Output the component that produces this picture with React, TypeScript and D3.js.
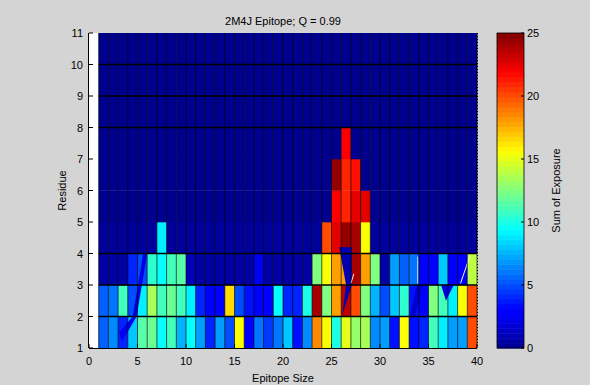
import * as d3 from "d3";
import React, { useRef, useEffect } from "react";

const title = "2M4J Epitope; Q = 0.99";
const xLabel = "Epitope Size";
const yLabel = "Residue";
const colorLabel = "Sum of Exposure";

const xTicks = [0, 5, 10, 15, 20, 25, 30, 35, 40];
const yTicks = [1, 2, 3, 4, 5, 6, 7, 8, 9, 10, 11];
const colorTicks = [0, 5, 10, 15, 20, 25];

// epitope size of each column (cell spans size .. size+1)
const epitopeSizes = d3.range(1, 40);

// sum of exposure, one array per residue level (cell spans level .. level+1)
const residue1 = [5.5, 6.5, 4, 8, 11.5, 12, 9.5, 11, 7.5, 9.5, 7, 4, 7, 5, 15.5, 3, 6, 4.5, 6, 8, 3.5, 6.5, 18.5, 15.5, 10, 15, 13, 13.5, 6.5, 7, 3.5, 15.5, 3.5, 4, 11, 9, 7, 7, 20];
const residue2 = [5.5, 6, 11, 5, 9, 13.5, 11, 12, 11, 9, 4, 3, 3, 16.5, 5, 3.5, 3, 3, 9.5, 4, 4, 10, 24, 12.5, 18, 23.5, 20, 12.5, 7.5, 5, 8, 10.5, 3.5, 3, 12.5, 11, 9, 15.5, 20];
const residue3 = [0.5, 0.5, 0.5, 4, 5, 10.5, 9.5, 11, 11.5, 1, 0.5, 0.5, 0.5, 0.5, 0.5, 0.5, 2.5, 0.5, 0.5, 0.5, 0.5, 0.5, 12.5, 15.5, 18, 18, 24, 18, 12.5, 0.5, 7, 5.5, 6, 2.5, 3, 8, 3, 3, 14];
const residue4 = [0.3, 0.3, 0.3, 0.3, 0.3, 0.3, 9, 0.3, 0.3, 0.3, 0.3, 0.3, 0.3, 0.3, 0.3, 0.3, 0.3, 0.3, 0.3, 0.3, 0.3, 0.3, 0.3, 20, 22.5, 24.5, 24, 15.5, 0.3, 0.3, 0.3, 0.3, 0.3, 0.3, 0.3, 0.3, 0.3, 0.3, 0.3];
const residue5 = [0, 0, 0, 0, 0, 0, 0, 0, 0, 0, 0, 0, 0, 0, 0, 0, 0, 0, 0, 0, 0, 0, 0, 0, 22, 21, 22.5, 22.5, 0, 0, 0, 0, 0, 0, 0, 0, 0, 0, 0];
const residue6 = [0, 0, 0, 0, 0, 0, 0, 0, 0, 0, 0, 0, 0, 0, 0, 0, 0, 0, 0, 0, 0, 0, 0, 0, 24.5, 21, 21.5, 0, 0, 0, 0, 0, 0, 0, 0, 0, 0, 0, 0];
const residue7 = [0, 0, 0, 0, 0, 0, 0, 0, 0, 0, 0, 0, 0, 0, 0, 0, 0, 0, 0, 0, 0, 0, 0, 0, 0, 22, 0, 0, 0, 0, 0, 0, 0, 0, 0, 0, 0, 0, 0];
const residue8 = [0, 0, 0, 0, 0, 0, 0, 0, 0, 0, 0, 0, 0, 0, 0, 0, 0, 0, 0, 0, 0, 0, 0, 0, 0, 0, 0, 0, 0, 0, 0, 0, 0, 0, 0, 0, 0, 0, 0];
const residue9 = [0, 0, 0, 0, 0, 0, 0, 0, 0, 0, 0, 0, 0, 0, 0, 0, 0, 0, 0, 0, 0, 0, 0, 0, 0, 0, 0, 0, 0, 0, 0, 0, 0, 0, 0, 0, 0, 0, 0];
const residue10 = [0, 0, 0, 0, 0, 0, 0, 0, 0, 0, 0, 0, 0, 0, 0, 0, 0, 0, 0, 0, 0, 0, 0, 0, 0, 0, 0, 0, 0, 0, 0, 0, 0, 0, 0, 0, 0, 0, 0];

const residueLevels = [1, 2, 3, 4, 5, 6, 7, 8, 9, 10];
const residueRows = [residue1, residue2, residue3, residue4, residue5, residue6, residue7, residue8, residue9, residue10];

// interpolation facets that cut across cells: [size, residue] corners and exposure
const facetValues = [2, 2.5, 0.8, 1.5, 2, 3];
const facetShapes = [
    [[5.6, 4], [6.0, 4], [4.9, 2], [4.5, 2]],
    [[4.5, 2], [4.9, 2], [3.4, 1.2], [3.1, 1.5]],
    [[25.8, 4.2], [27.1, 4.2], [27.1, 3.0], [26.1, 2.05], [26.5, 3.0]],
    [[33.8, 3], [34.4, 3], [33.6, 2], [33.1, 2]],
    [[36.3, 3], [37.6, 3], [36.8, 2.5]],
    [[34.2, 4], [35.0, 4], [34.8, 3], [34.5, 3]],
];
// thin light seams left by the renderer
const seams = [
    [[39.3, 3.95], [38.3, 3.05]],
    [[33.9, 3.9], [33.9, 3.05]],
    [[27.0, 3.05], [27.3, 3.35]],
];

// mesh rows whose edge line shows in the picture
const gridLevels = [2, 3, 4, 8, 9, 10];

const jet = (t: number) => {
    const c = (v: number) => Math.round(255 * Math.max(0, Math.min(1, v)));
    const r = Math.min(4 * t - 1.5, -4 * t + 4.5);
    const g = Math.min(4 * t - 0.5, -4 * t + 3.5);
    const b = Math.min(4 * t + 0.5625, -4 * t + 2.5);
    return `rgb(${c(r)},${c(g)},${c(b)})`;
};

const FONT = "'Liberation Sans', Arial, Helvetica, sans-serif";

function App() {
    const ref = useRef(null);
    const width = 590;
    const height = 385;
    const plot = { left: 89, right: 477, top: 33, bottom: 348 };
    const bar = { left: 497, right: 524 };

    useEffect(() => {
        draw();
    }, []);

    const draw = () => {
        const svg = d3.select(ref.current);
        svg.selectAll("*").remove();

        const x = d3.scaleLinear().domain([0, 40]).range([plot.left, plot.right]);
        const y = d3.scaleLinear().domain([1, 11]).range([plot.bottom, plot.top]);
        const color = d3.scaleSequential(jet).domain([0, 25]).clamp(true);
        const cy = d3.scaleLinear().domain([0, 25]).range([plot.bottom, plot.top]);
        const line = d3.line<number[]>().x((d) => x(d[0])).y((d) => y(d[1]));

        svg.append("rect").attr("width", width).attr("height", height).attr("fill", "#d4d4d4");

        svg.append("rect")
            .attr("x", plot.left)
            .attr("y", plot.top)
            .attr("width", plot.right - plot.left)
            .attr("height", plot.bottom - plot.top)
            .attr("fill", "white");

        const cells = residueRows.flatMap((row, r) =>
            row.map((v, i) => ({ size: epitopeSizes[i], level: residueLevels[r], v }))
        );

        svg.append("g")
            .selectAll("rect")
            .data(cells)
            .join("rect")
            .attr("x", (d) => x(d.size))
            .attr("y", (d) => y(d.level + 1))
            .attr("width", x(1) - x(0) + 0.3)
            .attr("height", y(0) - y(1) + 0.3)
            .attr("fill", (d) => color(d.v));

        svg.append("g")
            .selectAll("path")
            .data(facetShapes)
            .join("path")
            .attr("d", (d) => line(d) + "Z")
            .attr("fill", (d, i) => color(facetValues[i]));

        svg.append("g")
            .selectAll("path")
            .data(seams)
            .join("path")
            .attr("d", (d) => line(d))
            .attr("stroke", "#f4f4f4")
            .attr("stroke-width", 1)
            .attr("fill", "none");

        // mesh edges
        svg.append("g")
            .selectAll("line")
            .data(epitopeSizes.concat([40]))
            .join("line")
            .attr("x1", (d) => x(d))
            .attr("x2", (d) => x(d))
            .attr("y1", y(1))
            .attr("y2", y(11))
            .attr("stroke", "#000")
            .attr("stroke-opacity", 0.65)
            .attr("stroke-width", 1);

        svg.append("g")
            .selectAll("line")
            .data(gridLevels)
            .join("line")
            .attr("x1", x(1))
            .attr("x2", x(40))
            .attr("y1", (d) => y(d))
            .attr("y2", (d) => y(d))
            .attr("stroke", "#000")
            .attr("stroke-width", 1.6);

        // axes lines
        svg.append("line")
            .attr("x1", plot.left).attr("x2", plot.right)
            .attr("y1", plot.bottom + 0.5).attr("y2", plot.bottom + 0.5)
            .attr("stroke", "#000");
        svg.append("line")
            .attr("x1", plot.left - 0.5).attr("x2", plot.left - 0.5)
            .attr("y1", plot.top).attr("y2", plot.bottom)
            .attr("stroke", "#000");
        svg.append("line")
            .attr("x1", plot.right + 0.5).attr("x2", plot.right + 0.5)
            .attr("y1", plot.top).attr("y2", plot.bottom)
            .attr("stroke", "#000")
            .attr("stroke-dasharray", "1,2");

        const xt = svg.append("g").attr("font-family", FONT).attr("font-size", 11);
        xt.selectAll("line")
            .data(xTicks)
            .join("line")
            .attr("x1", (d) => x(d)).attr("x2", (d) => x(d))
            .attr("y1", plot.bottom).attr("y2", plot.bottom - 4)
            .attr("stroke", "#000");
        xt.selectAll("text")
            .data(xTicks)
            .join("text")
            .attr("x", (d) => x(d))
            .attr("y", plot.bottom + 17)
            .attr("text-anchor", "middle")
            .text((d) => d);

        const yt = svg.append("g").attr("font-family", FONT).attr("font-size", 11);
        yt.selectAll("line")
            .data(yTicks)
            .join("line")
            .attr("x1", plot.left).attr("x2", plot.left + 4)
            .attr("y1", (d) => y(d)).attr("y2", (d) => y(d))
            .attr("stroke", "#000");
        yt.selectAll("text")
            .data(yTicks)
            .join("text")
            .attr("x", plot.left - 6)
            .attr("y", (d) => y(d) + 4)
            .attr("text-anchor", "end")
            .text((d) => d);

        // colorbar
        const steps = d3.range(64);
        svg.append("g")
            .selectAll("rect")
            .data(steps)
            .join("rect")
            .attr("x", bar.left)
            .attr("width", bar.right - bar.left)
            .attr("y", (d) => cy(((d + 1) * 25) / 64))
            .attr("height", cy(0) - cy(25 / 64) + 0.5)
            .attr("fill", (d) => jet((d + 0.5) / 64));
        svg.append("rect")
            .attr("x", bar.left).attr("y", plot.top)
            .attr("width", bar.right - bar.left).attr("height", plot.bottom - plot.top)
            .attr("fill", "none").attr("stroke", "#000").attr("stroke-width", 0.8);

        const ct = svg.append("g").attr("font-family", FONT).attr("font-size", 11);
        ct.selectAll("line.r")
            .data(colorTicks)
            .join("line")
            .attr("x1", bar.right - 3).attr("x2", bar.right)
            .attr("y1", (d) => cy(d)).attr("y2", (d) => cy(d))
            .attr("stroke", "#000");
        ct.selectAll("text")
            .data(colorTicks)
            .join("text")
            .attr("x", bar.right + 3)
            .attr("y", (d) => cy(d) + 4)
            .text((d) => d);

        svg.append("text")
            .attr("x", (plot.left + plot.right) / 2)
            .attr("y", 25)
            .attr("text-anchor", "middle")
            .attr("font-family", FONT)
            .attr("font-size", 11)
            .text(title);
        svg.append("text")
            .attr("x", (plot.left + plot.right) / 2)
            .attr("y", 382)
            .attr("text-anchor", "middle")
            .attr("font-family", FONT)
            .attr("font-size", 11)
            .text(xLabel);
        svg.append("text")
            .attr("transform", `translate(66, ${(plot.top + plot.bottom) / 2}) rotate(-90)`)
            .attr("text-anchor", "middle")
            .attr("font-family", FONT)
            .attr("font-size", 11)
            .text(yLabel);
        svg.append("text")
            .attr("transform", `translate(560, ${(plot.top + plot.bottom) / 2}) rotate(-90)`)
            .attr("text-anchor", "middle")
            .attr("font-family", FONT)
            .attr("font-size", 11)
            .text(colorLabel);
    };

    return (
        <svg
            ref={ref}
            width={width}
            height={height}
            style={{ position: "absolute", left: 0, top: 0 }}
        ></svg>
    );
}

export default App;
